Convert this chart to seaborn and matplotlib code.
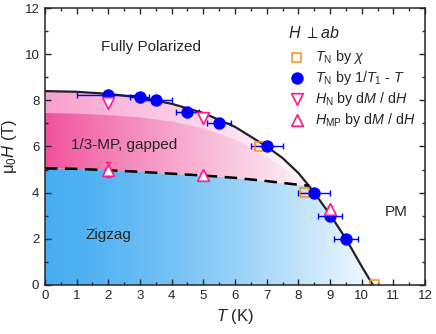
import numpy as np
import pandas as pd
import matplotlib
matplotlib.use("Agg")
import matplotlib.pyplot as plt
from matplotlib.patches import Polygon
import seaborn as sns

# TN by chi (orange open squares)
chi_T = [6.78, 8.2, 10.4]
chi_H = [6.0, 4.0, 0.0]
chi_Terr = [0.15, 0.15, 0.15]

# TN by 1/T1 - T (blue circles)
t1_T = [2.0, 3.0, 3.5, 4.5, 5.5, 7.0, 8.5, 9.0, 9.5]
t1_H = [8.22, 8.15, 8.0, 7.5, 7.0, 6.0, 4.0, 3.0, 2.0]
t1_Terr = [1.0, 0.3, 0.5, 0.37, 0.38, 0.5, 0.5, 0.38, 0.37]

# HN by dM/dH (open down triangles)
hn_T = [2.0, 5.0]
hn_H = [7.9, 7.22]

# HMP by dM/dH (open up triangles)
hmp_T = [2.0, 5.0, 9.0]
hmp_H = [5.0, 4.76, 3.3]
hmp_Herr = [0.34, 0.08, 0.1]

# phase boundaries
solid_T = [0, 1, 2, 3, 4, 5, 6, 7, 7.5, 8.0, 8.33, 8.5, 9.0, 9.5, 10.0, 10.35]
solid_H = [8.4, 8.37, 8.28, 8.12, 7.85, 7.45, 6.85, 6.0, 5.5, 4.85, 4.3, 4.0, 3.05, 2.0, 0.8, 0.0]
dash_T = [0, 1, 2, 3, 4, 5, 6, 7, 7.5, 8.0, 8.33]
dash_H = [5.05, 5.03, 4.97, 4.9, 4.82, 4.74, 4.64, 4.5, 4.42, 4.34, 4.3]
inner_T = [0, 1, 2, 3, 4, 5, 6, 6.6, 7.0, 7.5, 8.0, 8.33]
inner_H = [7.45, 7.42, 7.36, 7.26, 7.08, 6.78, 6.3, 5.9, 5.55, 5.1, 4.6, 4.3]

sns.set_style("ticks")
plt.rcParams['font.family'] = ['Liberation Sans', 'DejaVu Sans']
plt.rcParams['mathtext.fontset'] = 'custom'
plt.rcParams['mathtext.rm'] = 'Liberation Sans'
plt.rcParams['mathtext.it'] = 'Liberation Sans:italic'
plt.rcParams['mathtext.bf'] = 'Liberation Sans:bold'

fig = plt.figure(figsize=(4.36, 3.34), dpi=100)
ax = fig.add_axes([0.103, 0.147, 0.872, 0.829])
ax.set_xlim(0, 12)
ax.set_ylim(0, 12)


def gradient_fill(ax, xs, ys, c0, x_white, power=1.0):
    poly = Polygon(np.column_stack([xs, ys]), closed=True, facecolor='none', edgecolor='none')
    ax.add_patch(poly)
    xx = np.linspace(0, 12, 400)
    f = np.clip(xx / x_white, 0, 1) ** power
    c0 = np.array(c0) / 255.0
    img = c0[None, :] * (1 - f[:, None]) + np.ones(3)[None, :] * f[:, None]
    img = np.repeat(img[None, :, :], 2, axis=0)
    im = ax.imshow(img, extent=[0, 12, 0, 12], origin='lower', aspect='auto', zorder=0.5)
    im.set_clip_path(poly)


# blue zigzag region
jx = dash_T[-1]
bx = list(dash_T) + [t for t in solid_T if t > jx] + [0]
by = list(dash_H) + [h for t, h in zip(solid_T, solid_H) if t > jx] + [0]
gradient_fill(ax, bx, by, (72, 174, 242), 10.8, 1.4)

# outer light pink band
px = list(solid_T[:solid_T.index(8.33) + 1]) + dash_T[::-1]
py = list(solid_H[:solid_T.index(8.33) + 1]) + dash_H[::-1]
gradient_fill(ax, px, py, (246, 160, 205), 8.6, 1.0)

# inner darker pink
ix = list(inner_T) + dash_T[::-1]
iy = list(inner_H) + dash_H[::-1]
gradient_fill(ax, ix, iy, (240, 80, 155), 9.0, 0.9)

ax.plot(solid_T, solid_H, color='#222222', lw=1.6, zorder=2)
ax.plot(dash_T, dash_H, color='black', lw=1.8, ls=(0, (5, 3)), zorder=2)

orange = '#f7901e'
blue = '#0000ff'
pink = '#ff1a8c'

ax.errorbar(chi_T, chi_H, xerr=chi_Terr, fmt='none', ecolor=orange, elinewidth=1, capsize=2.5, zorder=3)
ax.errorbar(t1_T, t1_H, xerr=t1_Terr, fmt='none', ecolor=blue, elinewidth=1, capsize=2.5, zorder=3)
ax.errorbar(hmp_T, hmp_H, yerr=hmp_Herr, fmt='none', ecolor=pink, elinewidth=1, capsize=2.5, zorder=3)

sns.scatterplot(x=chi_T, y=chi_H, ax=ax, marker='s', s=42, facecolor='none',
                edgecolor=orange, linewidth=1.1, zorder=4, label=r'$T_\mathrm{N}$ by $\chi$')
sns.scatterplot(x=t1_T, y=t1_H, ax=ax, marker='o', s=80, color=blue,
                edgecolor=blue, linewidth=0, zorder=5, label=r'$T_\mathrm{N}$ by 1/$T_1$ - $T$')
sns.scatterplot(x=hn_T, y=hn_H, ax=ax, marker='v', s=70, facecolor='white',
                edgecolor=pink, linewidth=1.2, zorder=6, label=r'$H_\mathrm{N}$ by d$M$ / d$H$')
sns.scatterplot(x=hmp_T, y=hmp_H, ax=ax, marker='^', s=70, facecolor='white',
                edgecolor=pink, linewidth=1.2, zorder=6, label=r'$H_\mathrm{MP}$ by d$M$ / d$H$')

ax.legend(loc='upper left', bbox_to_anchor=(0.625, 0.875), frameon=False, fontsize=10.3,
          handletextpad=0.7, labelspacing=0.2, borderaxespad=0, handlelength=1.2)
ax.text(0.64, 0.91, r'$H$ $\perp$$ab$', transform=ax.transAxes, fontsize=11.5, va='center')

ax.text(3.35, 10.3, 'Fully Polarized', fontsize=11, ha='center', va='center')
ax.text(2.5, 6.06, '1/3-MP, gapped', fontsize=11, ha='center', va='center')
ax.text(2.0, 2.16, 'Zigzag', fontsize=11, ha='center', va='center')
ax.text(11.1, 3.16, 'PM', fontsize=11, ha='center', va='center')

ax.set_xticks(range(0, 13))
ax.set_yticks(range(0, 13, 2))
ax.set_xticks(np.arange(0.5, 12, 1), minor=True)
ax.set_yticks(range(1, 12, 2), minor=True)
ax.tick_params(which='both', direction='in', top=True, right=True, labelsize=9.5, width=1, pad=4)
ax.tick_params(which='major', length=4)
ax.tick_params(which='minor', length=2.5)
for sp in ax.spines.values():
    sp.set_linewidth(1.1)
    sp.set_zorder(7)

ax.set_xlabel(r'$T$ (K)', fontsize=12, labelpad=3)
ax.set_ylabel('μ$_0$$H$ (T)', fontsize=12, labelpad=4)

fig.savefig('out.png', dpi=100)
